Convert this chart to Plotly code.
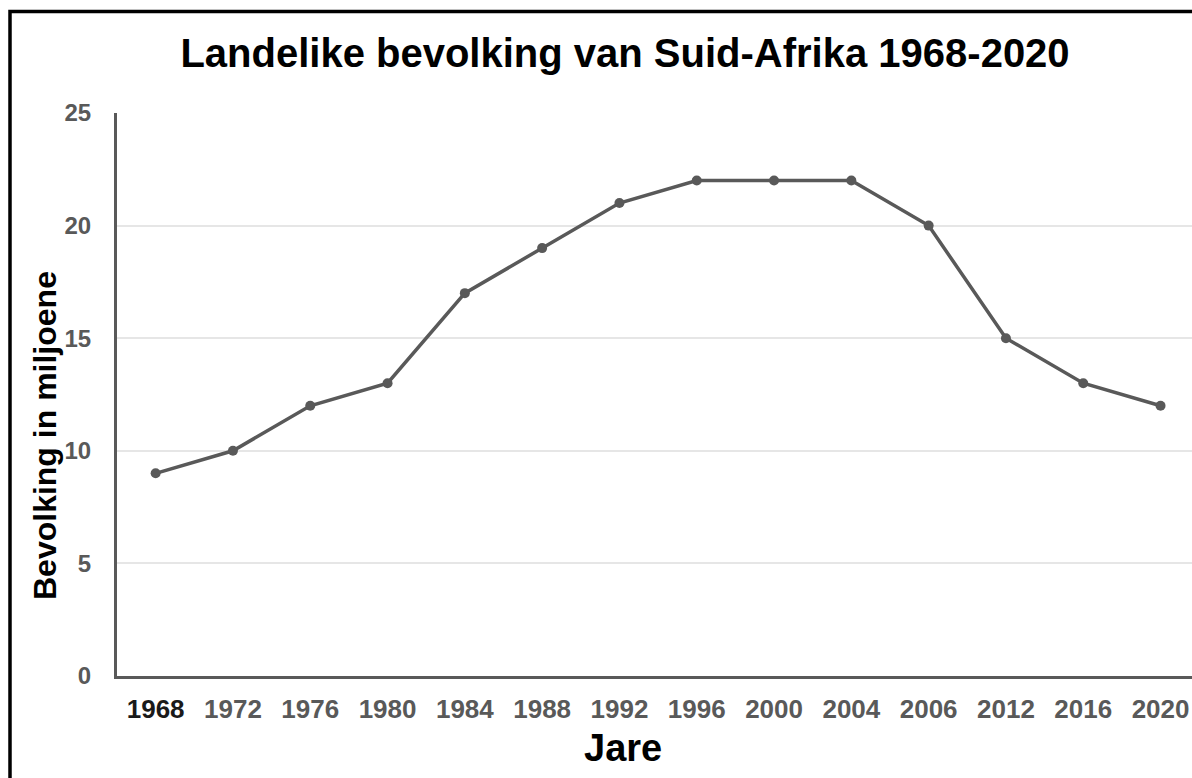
import plotly.graph_objects as go

years = ["1968", "1972", "1976", "1980", "1984", "1988", "1992", "1996",
         "2000", "2004", "2006", "2012", "2016", "2020"]
population = [9, 10, 12, 13, 17, 19, 21, 22, 22, 22, 20, 15, 13, 12]
y_ticks = [0, 5, 10, 15, 20, 25]

W, H = 1192, 778
L, T = 117, 113
B = H - 676
R = 0
pw, ph = W - L - R, H - T - B

def px(x):
    return (x - L) / pw

def py(y):
    return (H - B - y) / ph

FONT = "Arial, Liberation Sans, sans-serif"
GREY = "#595959"

ticktext = [("<span style='color:#1a1a1a'>%s</span>" % y) if i == 0 else y
            for i, y in enumerate(years)]

spacing = 77.3
x_end = -0.5 + pw / spacing

fig = go.Figure()
fig.add_trace(go.Scatter(
    x=years, y=population, mode="lines+markers",
    line=dict(color=GREY, width=3.5),
    marker=dict(color=GREY, size=10),
    showlegend=False, cliponaxis=False,
))

fig.update_layout(
    width=W, height=H,
    margin=dict(l=L, r=R, t=T, b=B, pad=0, autoexpand=False),
    paper_bgcolor="white", plot_bgcolor="white",
    title=dict(text="<b>Landelike bevolking van Suid-Afrika 1968-2020</b>",
               font=dict(family=FONT, size=40, color="black"),
               xref="paper", x=px(625), xanchor="center",
               yref="container", y=1 - 53 / H, yanchor="middle"),
    xaxis=dict(type="category", range=[-0.5, x_end], automargin=False,
               tickmode="array", tickvals=years, ticktext=ticktext,
               tickfont=dict(family=FONT, size=26, color=GREY, weight="bold"),
               showgrid=False, showline=True, linecolor=GREY, linewidth=3,
               ticks="", ticklabelstandoff=8, zeroline=False),
    yaxis=dict(range=[0, 25], tickvals=y_ticks, automargin=False,
               tickfont=dict(family=FONT, size=24, color=GREY, weight="bold"),
               showgrid=True, gridcolor="#e6e6e6", gridwidth=2,
               showline=True, linecolor=GREY, linewidth=3,
               ticks="", ticklabelstandoff=18, zeroline=False),
    annotations=[
        dict(text="<b>Jare</b>", xref="paper", yref="paper",
             x=px(623), y=py(748), xanchor="center", yanchor="middle",
             showarrow=False, font=dict(family=FONT, size=38, color="black")),
        dict(text="<b>Bevolking in miljoene</b>", xref="paper", yref="paper",
             x=px(45), y=py(436), xanchor="center", yanchor="middle",
             textangle=-90, showarrow=False,
             font=dict(family=FONT, size=32, color="black")),
    ],
    shapes=[
        dict(type="path", xref="paper", yref="paper",
             path="M %f,%f L %f,%f L %f,%f" % (px(10), py(778), px(10), py(11.5),
                                               px(1192), py(11.5)),
             line=dict(color="black", width=3.5)),
    ],
)

fig.write_html(
    "out.html",
    config={"displayModeBar": False},
    post_script="document.body.style.margin='0';"
                "document.body.style.overflow='hidden';",
)
